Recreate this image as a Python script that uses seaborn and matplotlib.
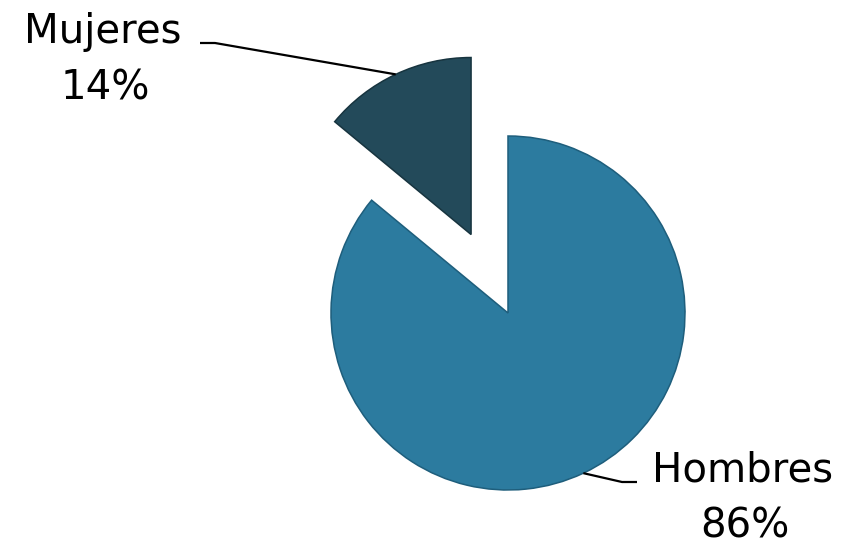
import numpy as np
import matplotlib
matplotlib.use("Agg")
import matplotlib.pyplot as plt
import seaborn as sns

# data
labels = ["Hombres", "Mujeres"]
values = [86, 14]
colors = ["#2C7B9F", "#234A5A"]
edges = ["#1E5E7C", "#17343F"]
explode = [0, 0.49]   # fraction of radius

sns.set_theme(style="white")
plt.rcParams['font.family'] = ['DejaVu Sans']

W, H = 852, 546
fig = plt.figure(figsize=(W / 100, H / 100), dpi=100)
ax = fig.add_axes([0, 0, 1, 1])

R = 177
wedges, _ = ax.pie(values, colors=colors, explode=[e * R for e in explode],
                   startangle=90, counterclock=False, radius=R,
                   center=(508, H - 313), wedgeprops=dict(linewidth=1.1))
for w, ec in zip(wedges, edges):
    w.set_edgecolor(ec)

ax.set_xlim(0, W)
ax.set_ylim(0, H)
ax.set_aspect("equal")
ax.axis("off")

# label layout: (text centre x, first baseline y, elbow x, line end x) in pixel units
layout = {
    "Mujeres": (103, 43, 215, 200),
    "Hombres": (743, 482, 622, 637),
}

total = sum(values)
for w, lab, v in zip(wedges, labels, values):
    tx, ty, ex, lx = layout[lab]
    mid = np.deg2rad((w.theta1 + w.theta2) / 2)
    cx, cy = w.center
    px = cx + w.r * np.cos(mid)
    py = cy + w.r * np.sin(mid)
    ax.plot([px, ex, lx], [py, H - ty, H - ty], color="black", lw=1.6,
            solid_capstyle="butt", zorder=3)
    ax.text(tx, H - ty, lab, ha="center", va="baseline", fontsize=29,
            color="black")
    ax.text(tx + 2, H - ty - 56, f"{v / total * 100:.0f}%", ha="center",
            va="baseline", fontsize=29, color="black")

fig.savefig("out.png", dpi=100)
